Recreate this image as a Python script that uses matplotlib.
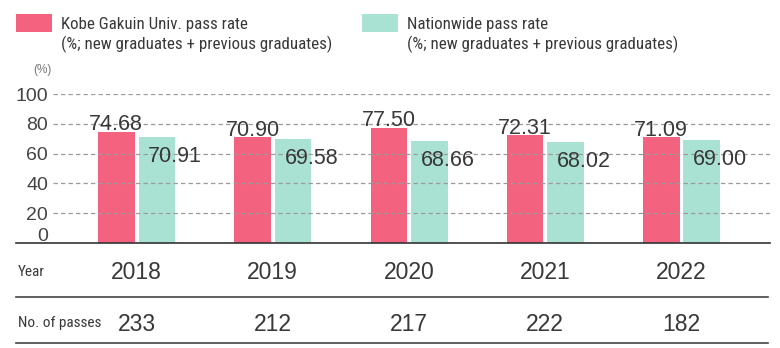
import matplotlib
matplotlib.use("Agg")
import matplotlib.pyplot as plt
import numpy as np
from matplotlib import font_manager
from matplotlib.lines import Line2D
from matplotlib.patches import Rectangle

years = ["2018", "2019", "2020", "2021", "2022"]
kobe_rate = [74.68, 70.90, 77.50, 72.31, 71.09]
national_rate = [70.91, 69.58, 68.66, 68.02, 69.00]
passes = [233, 212, 217, 222, 182]
y_ticks = [0, 20, 40, 60, 80, 100]

kobe_label = "Kobe Gakuin Univ. pass rate"
national_label = "Nationwide pass rate"
legend_note = "(%; new graduates + previous graduates)"

PINK = "#F3627F"
TEAL = "#A9E2D3"
TEXT = "#383838"

W, H = 780, 348


def pick_font(*names):
    for name in names:
        try:
            font_manager.findfont(font_manager.FontProperties(family=name),
                                  fallback_to_default=False)
            return name
        except ValueError:
            continue
    return "DejaVu Sans"


narrow = pick_font("Liberation Sans Narrow", "Roboto Condensed", "Open Sans Condensed")
plain = pick_font("Liberation Sans", "Roboto")
plt.rcParams["font.family"] = [plain, "DejaVu Sans"]


# pixel -> figure fraction helpers
def fx(px):
    return px / W


def fy(py):
    return 1 - py / H


fig = plt.figure(figsize=(W / 100, H / 100), dpi=100)

# plot area: baseline at y=243px, 100% at y=94px, axis line from x=16 to x=770
ax = fig.add_axes([fx(16), fy(243), fx(770) - fx(16), fy(94) - fy(243)])

step = 136.25                      # px between year groups
x0 = 136.5                          # px of the first group centre
ax.set_xlim((16 - x0) / step, (770 - x0) / step)
ax.set_ylim(0, 100)

x = np.arange(len(years))
bw = 36.5 / step
gap = 4 / step
off = (bw + gap) / 2

ax.bar(x - off, kobe_rate, width=bw, color=PINK, zorder=1)
ax.bar(x + off, national_rate, width=bw, color=TEAL, zorder=1)

# dashed grid, starting right of the tick labels
grid_start = (53 - x0) / step
ax.hlines(y_ticks[1:], grid_start, ax.get_xlim()[1], colors="#9a9a9a",
          linestyles=(0, (3.5, 2.5)), linewidth=0.9, zorder=2)

for s in ["top", "right", "left"]:
    ax.spines[s].set_visible(False)
ax.spines["bottom"].set_color("#333333")
ax.spines["bottom"].set_linewidth(1.2)
ax.set_yticks([])

label_x = (48 - x0) / step
for t in y_ticks:
    ty = 5.4 if t == 0 else t
    ax.text(label_x, ty, str(t), ha="right", va="center_baseline",
            fontsize=14, color="#444444")

# value labels
for xi, v in zip(x - off, kobe_rate):
    ax.text(xi, v + 1, f"{v:.2f}", ha="center", va="baseline",
            fontsize=15.5, color=TEXT, zorder=3)
for xi, v in zip(x + off + bw / 2, national_rate):
    ax.text(xi, v - 16.8, f"{v:.2f}", ha="center", va="baseline",
            fontsize=15.5, color=TEXT, zorder=3)

# year row as the x tick labels, passes row below
ax.set_xticks(x)
ax.set_xticklabels(years, fontsize=16.5, color=TEXT)
ax.tick_params(axis="x", length=0, pad=13)
for xi, p in zip(x, passes):
    ax.text(xi, (243 - 321.7) / 149, str(p), transform=ax.get_xaxis_transform(),
            ha="center", va="center_baseline", fontsize=16.5, color=TEXT)

fig.text(fx(18), fy(270), "Year", ha="left", va="center_baseline",
         fontsize=11, color=TEXT, family=narrow)
fig.text(fx(18), fy(322), "No. of passes", ha="left", va="center_baseline",
         fontsize=11, color=TEXT, family=narrow)

for py in (297, 343):
    fig.add_artist(Line2D([fx(16), fx(768)], [fy(py), fy(py)],
                          color="#444444", linewidth=1.2))

# legend
for left, color, title in ((16, PINK, kobe_label), (362, TEAL, national_label)):
    fig.add_artist(Rectangle((fx(left), fy(32)), fx(36), fy(14) - fy(32),
                             facecolor=color, edgecolor="none"))
    fig.text(fx(left + 45), fy(23), title, ha="left", va="center_baseline",
             fontsize=12.2, color=TEXT, family=narrow)
    fig.text(fx(left + 45), fy(42), legend_note, ha="left", va="center_baseline",
             fontsize=12.2, color=TEXT, family=narrow)

fig.text(fx(42), fy(70), "(%)", ha="center", va="center",
         fontsize=8.5, color="#777777")

fig.savefig("out.png", dpi=100)
